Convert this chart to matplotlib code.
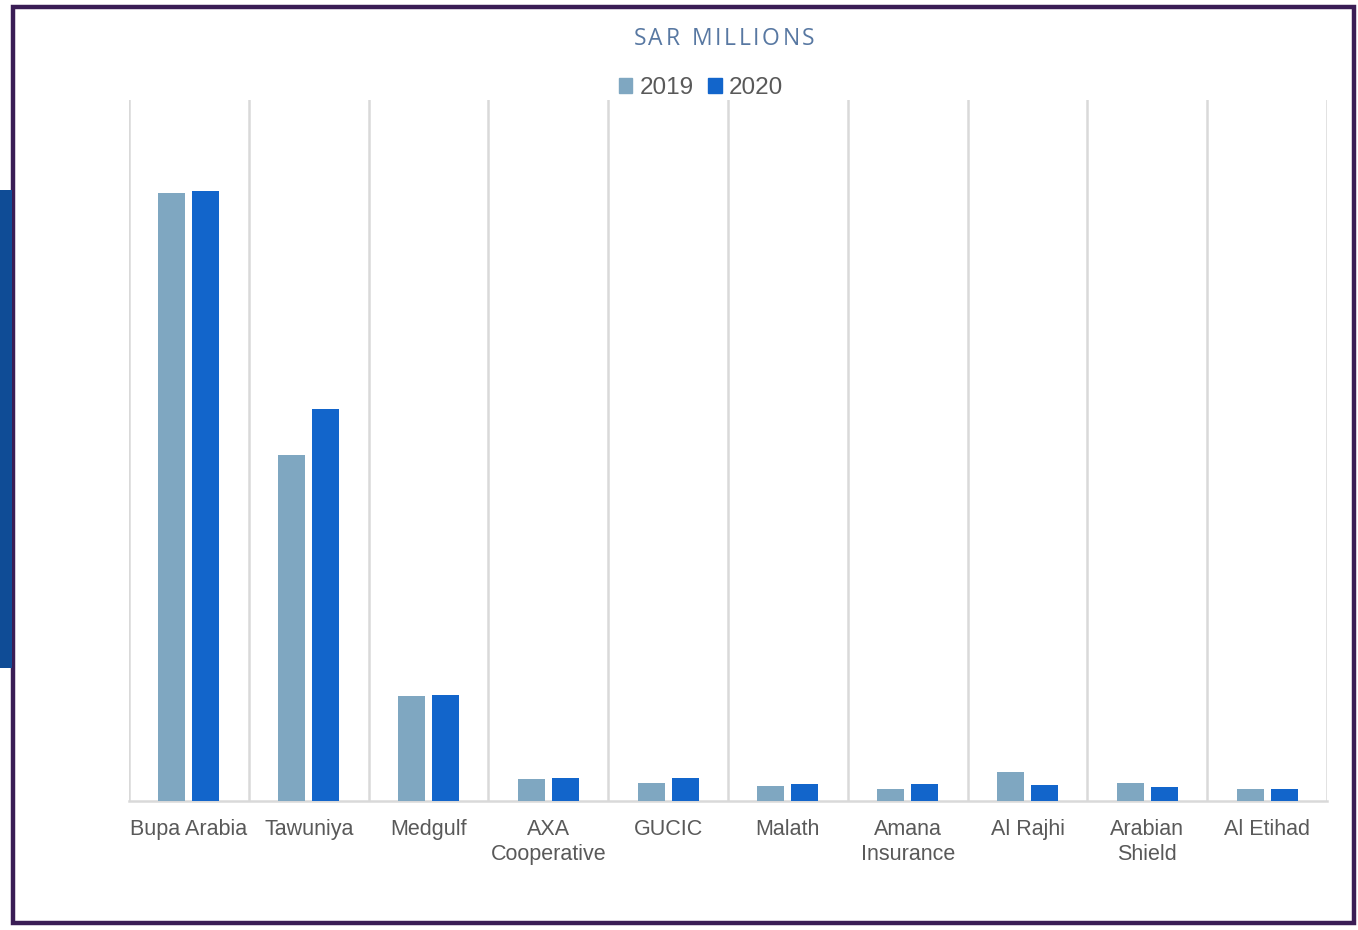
import numpy as np
import matplotlib; matplotlib.use("Agg")
import matplotlib.pyplot as plt
from matplotlib.patches import Rectangle, Patch

# values (SAR millions, approximate)
companies = ["Bupa Arabia", "Tawuniya", "Medgulf", "AXA\nCooperative", "GUCIC",
             "Malath", "Amana\nInsurance", "Al Rajhi", "Arabian\nShield", "Al Etihad"]
v2019 = [9967, 5672, 1721, 361, 290, 241, 202, 475, 290, 192]
v2020 = [10000, 6426, 1738, 372, 372, 279, 279, 257, 230, 197]

C19 = "#7fa7c1"; C20 = "#1265cb"; GRID = "#d9d9d9"; TXT = "#595959"

W, H = 1358, 930
fig = plt.figure(figsize=(W/100, H/100), dpi=100, facecolor="white")
ax = fig.add_axes([129/W, 1-801/H, (1327-129)/W, (801-100)/H])

x = np.arange(len(companies)); bw = 0.225
ax.bar(x-0.142, v2019, bw, color=C19, zorder=3)
ax.bar(x+0.142, v2020, bw, color=C20, zorder=3)

ax.set_xlim(-0.5, len(companies)-0.5); ax.set_ylim(0, 11500)
for xb in np.arange(-0.5, len(companies), 1.0):
    ax.axvline(xb, color=GRID, lw=1.8, zorder=1)
for s in ["top", "right", "left"]: ax.spines[s].set_visible(False)
ax.spines["bottom"].set_color(GRID); ax.spines["bottom"].set_linewidth(1.8)
ax.set_yticks([])
ax.set_xticks(x); ax.set_xticklabels(companies, fontsize=15.5, color=TXT,
                                     family=["Liberation Sans", "DejaVu Sans"], linespacing=1.25)
ax.tick_params(axis="x", length=0, pad=13)

# title with letter spacing
title = "SAR MILLIONS"
fig.canvas.draw(); r = fig.canvas.get_renderer()
tx = []; total = 0; sp = 2.6
for ch in title:
    t = fig.text(0, 0, ch, fontsize=16.5, family=["Open Sans", "DejaVu Sans"])
    w = t.get_window_extent(r).width if ch != " " else 7; t.remove()
    tx.append(w); total += w + sp
total -= sp
xpos = 724 - total/2
for ch, w in zip(title, tx):
    fig.text(xpos/W, 1-45/H, ch, fontsize=16.5, color="#5878a2",
             family=["Open Sans", "DejaVu Sans"], ha="left", va="baseline")
    xpos += w + sp

handles = [Patch(color=C19, label="2019"), Patch(color=C20, label="2020")]
fig.legend(handles=handles, loc="center", bbox_to_anchor=(701/W, 1-88/H), ncol=2,
           frameon=False, handlelength=0.55, handleheight=0.55, handletextpad=0.3,
           columnspacing=0.6, prop={"family": "Liberation Sans", "size": 17.5}, labelcolor=TXT)

# frame and left accent
fig.patches.append(Rectangle((13/W, 7/H), (1354-13)/W, (923-7)/H, transform=fig.transFigure,
                             fill=False, edgecolor="#3a1d55", lw=3.2))
fig.patches.append(Rectangle((0, 1-668/H), 12/W, (668-190)/H, transform=fig.transFigure,
                             facecolor="#0f4c96", edgecolor="none"))

fig.savefig("out.png", dpi=100, facecolor="white")
